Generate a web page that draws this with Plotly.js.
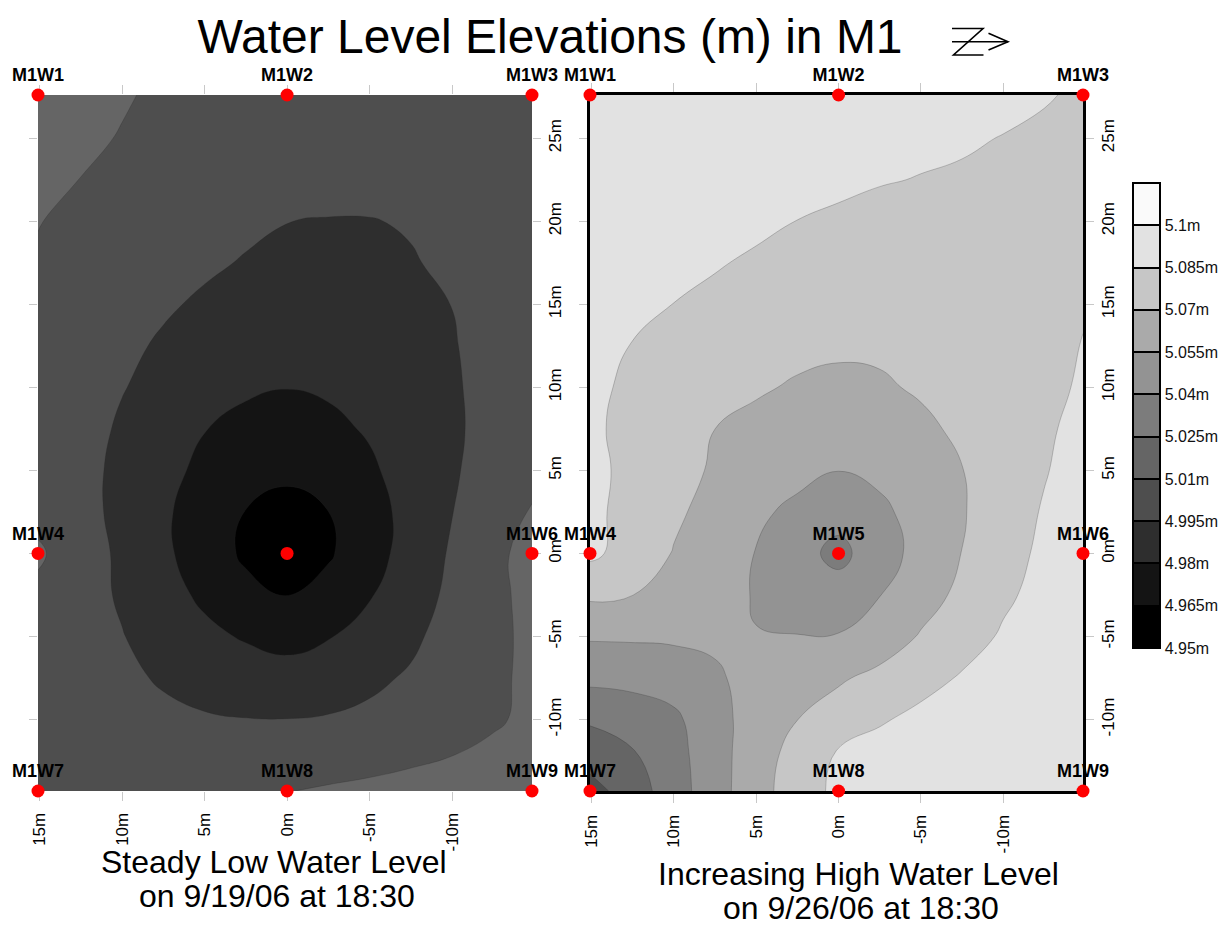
<!DOCTYPE html>
<html><head><meta charset="utf-8">
<script src="https://cdn.plot.ly/plotly-3.0.1.min.js"></script>
<style>html,body{margin:0;padding:0;background:#fff;} #chart{width:1231px;height:925px;}</style>
</head><body><div id="chart"></div>
<script>
// ---- grid coordinates (m) ----
const gridX = [15.1, 12.5, 10, 7.5, 5, 2.5, 0, -2.5, -5, -7.5, -10, -12.5, -14.85];
const gridY = [-14.3, -12, -10, -7.5, -5, -2.5, 0, 2.5, 5, 7.5, 10, 12.5, 15, 17.5, 20, 22.5, 25, 27.6];

// ---- estimated water level elevations (m); rows follow gridY, columns follow gridX ----
const lowZ = [
  [5.005, 5.0048, 5.0047, 5.0052, 5.006, 5.0078, 5.0097, 5.0112, 5.0123, 5.0133, 5.0142, 5.015, 5.0158],
  [5.005, 5.0035, 5.0025, 5.002, 5.0018, 5.002, 5.0027, 5.004, 5.0058, 5.0078, 5.0096, 5.0118, 5.0135],
  [5.005, 5.002, 4.9995, 4.9975, 4.996, 4.9953, 4.9952, 4.9958, 4.9975, 5.0005, 5.0044, 5.0088, 5.012],
  [5.0055, 5.0013, 4.9973, 4.9938, 4.9909, 4.988, 4.9858, 4.9895, 4.9926, 4.9964, 5.002, 5.0077, 5.0125],
  [5.006, 5.0006, 4.9955, 4.9894, 4.9834, 4.9786, 4.9753, 4.9792, 4.9855, 4.9926, 4.9999, 5.0073, 5.0125],
  [5.007, 5.0002, 4.9934, 4.9854, 4.9773, 4.9691, 4.9643, 4.9702, 4.979, 4.9885, 4.998, 5.007, 5.0135],
  [5.012, 5.0018, 4.9923, 4.9828, 4.9725, 4.9627, 4.955, 4.9633, 4.9743, 4.9857, 4.9966, 5.0064, 5.015],
  [5.006, 4.9992, 4.9916, 4.9822, 4.973, 4.9646, 4.961, 4.9649, 4.9746, 4.9845, 4.9947, 5.0032, 5.0105],
  [5.005, 4.9988, 4.992, 4.9836, 4.9772, 4.9724, 4.9675, 4.9728, 4.9781, 4.9853, 4.9934, 5.001, 5.008],
  [5.005, 4.9993, 4.9935, 4.9868, 4.9803, 4.977, 4.9739, 4.9773, 4.9812, 4.9871, 4.9929, 4.9995, 5.006],
  [5.005, 5.0001, 4.9955, 4.9915, 4.9877, 4.9815, 4.9803, 4.9815, 4.9869, 4.9903, 4.9937, 4.9986, 5.004],
  [5.0055, 5.0013, 4.9972, 4.9937, 4.9908, 4.988, 4.9851, 4.9857, 4.9886, 4.9914, 4.9943, 4.9988, 5.0035],
  [5.007, 5.0033, 4.9998, 4.9963, 4.9935, 4.9912, 4.9889, 4.9882, 4.9905, 4.9928, 4.9951, 4.9992, 5.003],
  [5.0085, 5.0054, 5.0025, 4.9996, 4.9966, 4.9943, 4.9926, 4.991, 4.9926, 4.9943, 4.9969, 5.0003, 5.0035],
  [5.0105, 5.0065, 5.004, 5.0015, 4.999, 4.997, 4.9951, 4.9946, 4.9946, 4.9958, 4.998, 5.001, 5.004],
  [5.0135, 5.0098, 5.0065, 5.004, 5.002, 5.0005, 4.9995, 4.9985, 4.9987, 4.9995, 5.001, 5.0025, 5.0045],
  [5.016, 5.0125, 5.0093, 5.0065, 5.0045, 5.003, 5.0022, 5.0018, 5.002, 5.0025, 5.003, 5.004, 5.005],
  [5.019, 5.015, 5.0112, 5.0078, 5.0055, 5.004, 5.0032, 5.0028, 5.0028, 5.003, 5.0035, 5.0042, 5.005]
];
const highZ = [
  [5.004, 5.0178, 5.033, 5.0493, 5.0637, 5.0785, 5.088, 5.0915, 5.0935, 5.095, 5.0958, 5.0963, 5.0966],
  [5.0172, 5.024, 5.0347, 5.0493, 5.063, 5.0753, 5.0862, 5.09, 5.0925, 5.0945, 5.0957, 5.0963, 5.0967],
  [5.0268, 5.0315, 5.037, 5.0503, 5.061, 5.0699, 5.0768, 5.0836, 5.0885, 5.0925, 5.0948, 5.0958, 5.0965],
  [5.0437, 5.0445, 5.047, 5.0535, 5.0588, 5.0635, 5.0682, 5.074, 5.0803, 5.0862, 5.0918, 5.0945, 5.0962],
  [5.0565, 5.0568, 5.0572, 5.0568, 5.0553, 5.0553, 5.0558, 5.0615, 5.0712, 5.0794, 5.0865, 5.0915, 5.0958],
  [5.0725, 5.0701, 5.0647, 5.0594, 5.0542, 5.05, 5.0463, 5.0547, 5.0639, 5.0733, 5.0828, 5.089, 5.0955],
  [5.088, 5.079, 5.0692, 5.0619, 5.0545, 5.0451, 5.036, 5.0481, 5.0602, 5.0702, 5.0796, 5.0878, 5.095],
  [5.087, 5.082, 5.0725, 5.0649, 5.0579, 5.0514, 5.0452, 5.0522, 5.0602, 5.069, 5.0777, 5.0862, 5.093],
  [5.088, 5.0819, 5.0746, 5.0684, 5.0639, 5.0595, 5.0552, 5.0581, 5.0639, 5.0697, 5.0769, 5.0841, 5.091],
  [5.087, 5.0817, 5.0759, 5.070, 5.067, 5.0641, 5.0612, 5.0637, 5.0677, 5.0721, 5.0775, 5.0829, 5.089],
  [5.0872, 5.0831, 5.0792, 5.0752, 5.0713, 5.0688, 5.0671, 5.0686, 5.0713, 5.0751, 5.0788, 5.0826, 5.0861],
  [5.0895, 5.0845, 5.0808, 5.0775, 5.0748, 5.0728, 5.072, 5.0718, 5.0722, 5.0738, 5.0765, 5.080, 5.0855],
  [5.0925, 5.0888, 5.0848, 5.0815, 5.0785, 5.0765, 5.0752, 5.0745, 5.0741, 5.0745, 5.0757, 5.0785, 5.0838],
  [5.0952, 5.0935, 5.0905, 5.0862, 5.0828, 5.080, 5.0785, 5.0772, 5.0763, 5.0758, 5.0758, 5.0768, 5.0795],
  [5.0962, 5.0952, 5.0938, 5.0915, 5.0882, 5.0848, 5.0822, 5.0805, 5.0792, 5.0782, 5.0776, 5.0776, 5.078],
  [5.0968, 5.0962, 5.0955, 5.0945, 5.093, 5.0908, 5.0885, 5.0859, 5.0845, 5.0838, 5.0815, 5.0808, 5.0805],
  [5.097, 5.0968, 5.0965, 5.0958, 5.095, 5.0938, 5.0922, 5.0902, 5.088, 5.0862, 5.0847, 5.0832, 5.0822],
  [5.097, 5.097, 5.0965, 5.096, 5.0955, 5.095, 5.094, 5.093, 5.0915, 5.0898, 5.0878, 5.0858, 5.0835]
];

// ---- wells ----
const wellNames = ['M1W1','M1W2','M1W3','M1W4','M1W5','M1W6','M1W7','M1W8','M1W9'];
const wellX = [15.1, 0, -14.85, 15.1, 0, -14.85, 15.1, 0, -14.85];
const wellY = [27.6, 27.6, 27.6, 0, 0, 0, -14.3, -14.3, -14.3];
const lowWellLabels = ['M1W1','M1W2','M1W3','M1W4','','M1W6','M1W7','M1W8','M1W9'];

// ---- contour levels / colour bands ----
const levels = [4.95, 4.965, 4.98, 4.995, 5.01, 5.025, 5.04, 5.055, 5.07, 5.085, 5.1];
const levelStep = 0.015;
const bandColors = ['#000000','#141414','#2e2e2e','#4e4e4e','#656565','#7c7c7c',
                    '#939393','#aaaaaa','#c6c6c6','#e2e2e2','#fafafa'];

// ---- tick labels ----
const xTicks = [15, 10, 5, 0, -5, -10];
const yTicks = [-10, -5, 0, 5, 10, 15, 20, 25];

const FONT = 'Liberation Sans, Arial, Helvetica, sans-serif';
const W = 1231, H = 925;

const colorscale = [];
bandColors.forEach((c, k) => {
  colorscale.push([k / bandColors.length, c]);
  colorscale.push([(k + 1) / bandColors.length, c]);
});

const contourSpec = {
  start: levels[1], end: levels[levels.length - 1], size: levelStep,
  coloring: 'fill', showlines: true
};

function panel(z, xa, ya) {
  return {
    type: 'contour', x: gridX, y: gridY, z: z, xaxis: xa, yaxis: ya,
    autocontour: false, contours: contourSpec, colorscale: colorscale,
    line: {width: 0.6, color: 'rgba(40,40,40,0.4)', smoothing: 1.3},
    showscale: false, hoverinfo: 'skip'
  };
}
function wells(labels, xa, ya) {
  return {
    type: 'scatter', mode: 'markers+text', x: wellX, y: wellY, text: labels,
    xaxis: xa, yaxis: ya, textposition: 'top center', cliponaxis: false,
    marker: {color: '#ff0000', size: 13},
    textfont: {family: FONT, size: 18, color: '#000', weight: 700},
    hoverinfo: 'skip', showlegend: false
  };
}

// invisible carrier for the stepped colour bar (its data lie outside its hidden axes)
const colorbarTrace = {
  type: 'contour', x: gridX, y: gridY, z: highZ, xaxis: 'x3', yaxis: 'y3',
  autocontour: false,
  contours: {start: levels[1], end: levels[levels.length - 1], size: levelStep, coloring: 'heatmap', showlines: true},
  colorscale: colorscale, zauto: false, zmin: levels[0], zmax: levels[levels.length - 1] + levelStep,
  line: {width: 2, color: '#000'},
  hoverinfo: 'skip',
  colorbar: {
    xref: 'container', x: 1133 / W, xanchor: 'left',
    yref: 'container', y: 1 - 183 / H, yanchor: 'top',
    len: 465, lenmode: 'pixels', thickness: 27, thicknessmode: 'pixels',
    xpad: 0, ypad: 0, outlinewidth: 2, outlinecolor: '#000',
    ticks: '', tickmode: 'array', tickvals: levels, ticktext: levels.map(v => v + 'm'),
    tickfont: {family: FONT, size: 16, color: '#111'}
  }
};

function xAxis(domain, border, anchor) {
  return {
    domain: domain, anchor: anchor, range: [gridX[0], gridX[gridX.length - 1]],
    tickmode: 'array', tickvals: xTicks, ticktext: xTicks.map(v => v + 'm'),
    tickangle: -90, ticks: 'outside', ticklen: 9, tickcolor: '#c8c8c8', tickwidth: 1,
    ticklabelstandoff: 5,
    mirror: 'ticks', showline: border, linecolor: '#000', linewidth: 3,
    showgrid: false, zeroline: false, fixedrange: true, layer: 'below traces',
    tickfont: {family: FONT, size: 17, color: '#000'}
  };
}
function yAxis(anchor, border) {
  return {
    domain: [1 - 791 / H, 1 - 95 / H], anchor: anchor, side: 'right',
    range: [gridY[0], gridY[gridY.length - 1]],
    tickmode: 'array', tickvals: yTicks, ticktext: yTicks.map(v => v + 'm'),
    tickangle: -90, ticks: 'outside', ticklen: 8, tickcolor: '#c8c8c8', tickwidth: 1,
    ticklabelstandoff: 0,
    mirror: 'ticks', showline: border, linecolor: '#000', linewidth: 3,
    showgrid: false, zeroline: false, fixedrange: true, layer: 'below traces',
    tickfont: {family: FONT, size: 17, color: '#000'}
  };
}

// north arrow symbol (decoration), pixel points converted to paper fractions
function pathFrom(pts) {
  return pts.map((p, i) => (i ? 'L' : 'M') + (p[0] / W).toFixed(5) + ',' + (1 - p[1] / H).toFixed(5)).join(' ');
}
const arrowStyle = {type: 'path', xref: 'paper', yref: 'paper', line: {color: '#000', width: 1.6}};
const shapes = [
  Object.assign({path: pathFrom([[952, 28.5], [983, 28.5], [953.5, 55], [983.5, 55]])}, arrowStyle),
  Object.assign({path: pathFrom([[952, 41.7], [1008, 41.7]])}, arrowStyle),
  Object.assign({path: pathFrom([[988.5, 33.3], [1008, 41.7], [988.5, 50]])}, arrowStyle)
];

function note(text, px, py) {
  return {text: text, xref: 'paper', yref: 'paper', x: px / W, y: 1 - py / H,
          xanchor: 'center', yanchor: 'middle', showarrow: false,
          font: {family: FONT, size: 32, color: '#000'}};
}

const layout = {
  width: W, height: H,
  margin: {l: 0, r: 0, t: 0, b: 0, autoexpand: false},
  paper_bgcolor: '#fff', plot_bgcolor: '#fff',
  showlegend: false,
  font: {family: FONT, color: '#000'},
  title: {text: 'Water Level Elevations (m) in M1', font: {family: FONT, size: 48, color: '#000'},
          xref: 'container', yref: 'container', x: 550 / W, xanchor: 'center', y: 1 - 36 / H, yanchor: 'middle'},
  xaxis: xAxis([38 / W, 532 / W], false, 'y'),
  yaxis: yAxis('x', false),
  xaxis2: xAxis([590 / W, 1083 / W], true, 'y2'),
  yaxis2: yAxis('x2', true),
  xaxis3: {domain: [0.995, 1], anchor: 'y3', range: [1000, 1001], visible: false, fixedrange: true},
  yaxis3: {domain: [0, 0.005], anchor: 'x3', range: [1000, 1001], visible: false, fixedrange: true},
  shapes: shapes,
  annotations: [
    note('Steady Low Water Level', 274, 862),
    note('on 9/19/06 at 18:30', 277, 896),
    note('Increasing High Water Level', 858, 874),
    note('on 9/26/06 at 18:30', 861, 908)
  ]
};

const data = [
  panel(lowZ, 'x', 'y'),
  panel(highZ, 'x2', 'y2'),
  wells(lowWellLabels, 'x', 'y'),
  wells(wellNames, 'x2', 'y2'),
  colorbarTrace
];

Plotly.newPlot('chart', data, layout, {staticPlot: true, displayModeBar: false});
</script>
</body></html>
